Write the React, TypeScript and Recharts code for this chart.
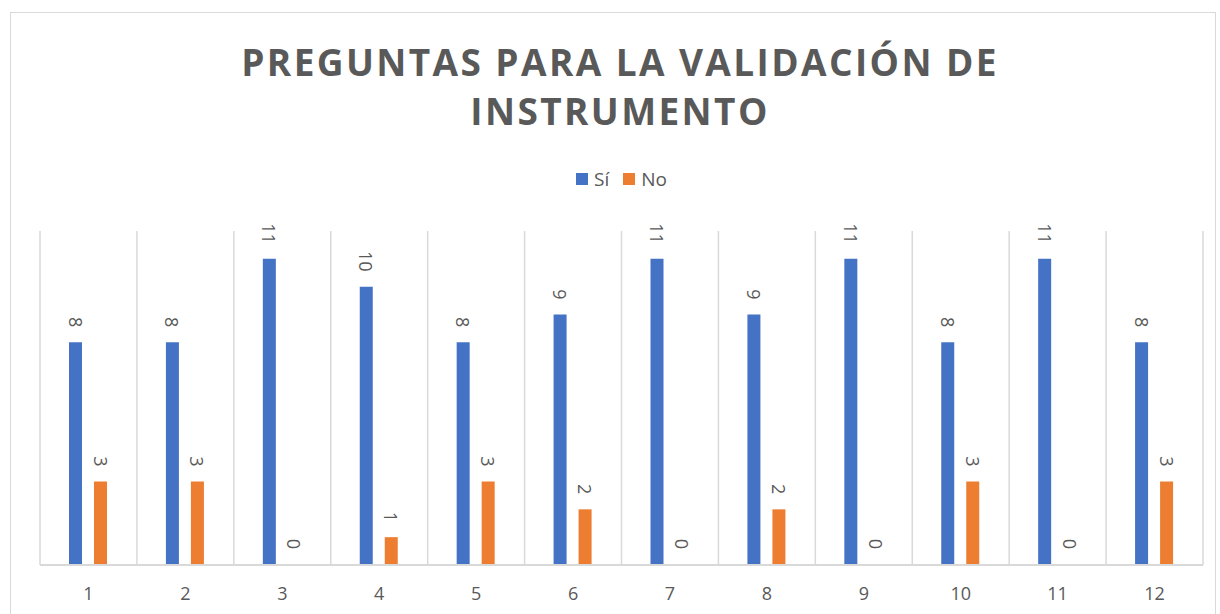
import React from 'react';
import { BarChart, Bar, XAxis, YAxis, CartesianGrid, Legend, LabelList } from 'recharts';

const preguntas = ['1', '2', '3', '4', '5', '6', '7', '8', '9', '10', '11', '12'];
const si = [8, 8, 11, 10, 8, 9, 11, 9, 11, 8, 11, 8];
const no = [3, 3, 0, 1, 3, 2, 0, 2, 0, 3, 0, 3];
const legendOrder = ['Sí', 'No'];

const data = preguntas.map((p, i) => ({ pregunta: p, si: si[i], no: no[i] }));

const TEXT = '#595959';
const FONT = '"Open Sans", sans-serif';

// labels read top to bottom, their end sits a little above the bar
const RotatedLabel = (props: any) => {
  const { x, y, width, height, value } = props;
  const cx = x + width / 2;
  const top = height < 0 ? y + height : y;
  const cy = top - 15;
  return (
    <text
      x={cx}
      y={cy}
      transform={`rotate(90, ${cx}, ${cy})`}
      textAnchor="end"
      dominantBaseline="central"
      fill={TEXT}
      fontSize={18}
      fontFamily={FONT}
    >
      {value}
    </text>
  );
};

const LegendContent = (props: any) => {
  const items = [...(props.payload || [])].sort(
    (a: any, b: any) => legendOrder.indexOf(a.value) - legendOrder.indexOf(b.value)
  );
  return (
    <div style={{ display: 'flex', justifyContent: 'center', gap: 14, fontFamily: FONT, fontSize: 19, color: TEXT }}>
      {items.map((entry: any) => (
        <span key={entry.value} style={{ display: 'flex', alignItems: 'center' }}>
          <span style={{ width: 12, height: 12, background: entry.color, display: 'inline-block', marginRight: 6 }} />
          {entry.value}
        </span>
      ))}
    </div>
  );
};

export default function App() {
  // vertical lines on the category borders, not the centres
  const borderLines = ({ offset }: any) =>
    Array.from({ length: preguntas.length + 1 }, (_, i) => offset.left + (i * offset.width) / preguntas.length);

  return (
    <div style={{ position: 'absolute', left: 0, top: 0, width: 1220, height: 614, background: '#fff', overflow: 'hidden' }}>
      <div
        style={{
          position: 'absolute',
          left: 10,
          top: 12,
          width: 1206,
          height: 620,
          border: '1px solid #d9d9d9',
          boxSizing: 'border-box',
        }}
      />
      <div
        style={{
          position: 'absolute',
          left: 0,
          top: 37,
          width: 1240,
          textAlign: 'center',
          fontFamily: FONT,
          fontWeight: 700,
          fontSize: 37,
          letterSpacing: 2.4,
          lineHeight: '49px',
          color: TEXT,
        }}
      >
        PREGUNTAS PARA LA VALIDACIÓN DE
        <br />
        INSTRUMENTO
      </div>
      <BarChart
        width={1220}
        height={614}
        data={data}
        margin={{ top: 201, right: 17, bottom: 19, left: 40 }}
        barSize={13}
        barGap={12}
        style={{ position: 'absolute', left: 0, top: 0 }}
      >
        <CartesianGrid horizontal={false} stroke="#d9d9d9" strokeWidth={1.5} verticalCoordinatesGenerator={borderLines} />
        <XAxis
          dataKey="pregunta"
          height={30}
          tickLine={false}
          axisLine={{ stroke: '#d9d9d9', strokeWidth: 2 }}
          tick={{ fill: TEXT, fontSize: 18, fontFamily: FONT }}
          tickMargin={16}
        />
        <YAxis hide domain={[0, 12]} />
        <Legend verticalAlign="top" height={30} content={<LegendContent />} wrapperStyle={{ top: 166 }} />
        <Bar dataKey="si" name="Sí" fill="#4472C4" minPointSize={1} isAnimationActive={false}>
          <LabelList dataKey="si" content={<RotatedLabel />} />
        </Bar>
        <Bar dataKey="no" name="No" fill="#ED7D31" minPointSize={1} isAnimationActive={false}>
          <LabelList dataKey="no" content={<RotatedLabel />} />
        </Bar>
      </BarChart>
    </div>
  );
}
